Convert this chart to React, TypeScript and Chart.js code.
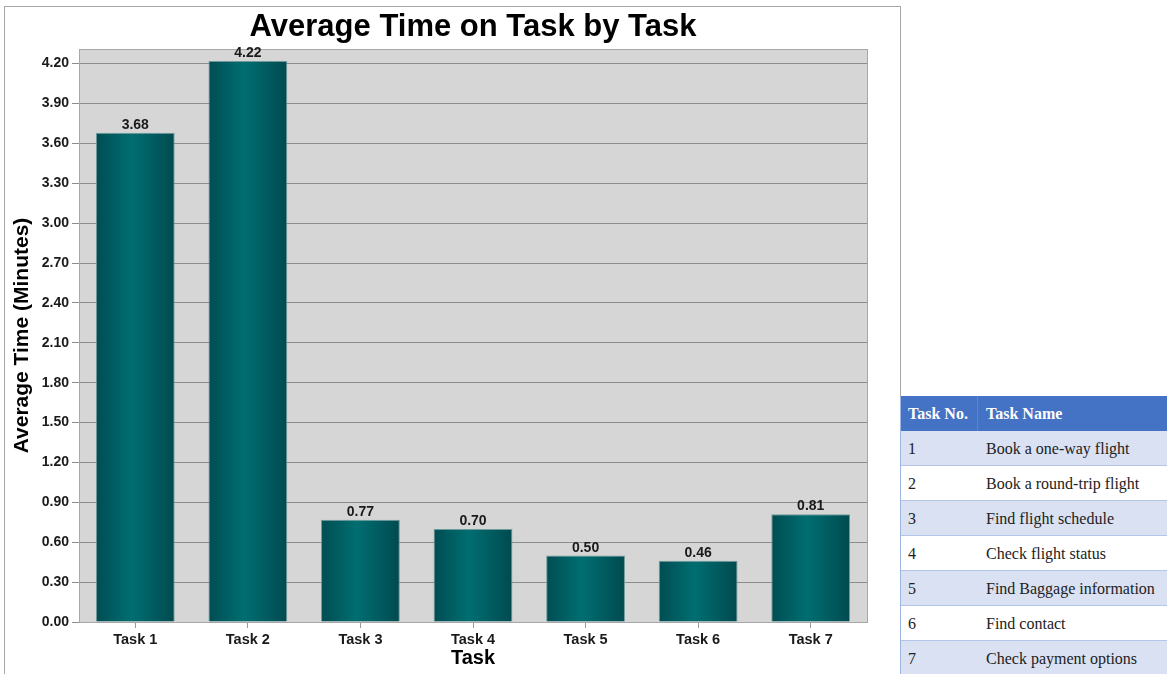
import React, { useEffect, useRef } from 'react';
import { Chart, registerables } from 'chart.js';
Chart.register(...registerables);

const FONT = '"Liberation Sans", Arial, sans-serif';
const SERIF = '"Liberation Serif", "Times New Roman", serif';

const chartTitle = 'Average Time on Task by Task';
const xAxisTitle = 'Task';
const yAxisTitle = 'Average Time (Minutes)';
const categories = ['Task 1', 'Task 2', 'Task 3', 'Task 4', 'Task 5', 'Task 6', 'Task 7'];
const avgTimes = [3.68, 4.22, 0.77, 0.7, 0.5, 0.46, 0.81];
const yTickValues = [0, 0.3, 0.6, 0.9, 1.2, 1.5, 1.8, 2.1, 2.4, 2.7, 3.0, 3.3, 3.6, 3.9, 4.2];
const yMax = 4.31;

const tableHeaders = ['Task No.', 'Task Name'];
const taskNumbers = ['1', '2', '3', '4', '5', '6', '7'];
const taskNames = [
  'Book a one-way flight',
  'Book a round-trip flight',
  'Find flight schedule',
  'Check flight status',
  'Find Baggage information',
  'Find contact',
  'Check payment options',
];

const BAR_PCT = 0.7;

const decorPlugin = {
  id: 'decor',
  beforeDraw(chart: any) {
    const { ctx, chartArea: a } = chart;
    ctx.save();
    ctx.fillStyle = '#d6d6d6';
    ctx.fillRect(a.left, a.top, a.right - a.left, a.bottom - a.top);
    ctx.restore();
  },
  beforeDatasetsDraw(chart: any) {
    const { ctx, chartArea: a } = chart;
    ctx.save();
    ctx.strokeStyle = '#a8a8a8';
    ctx.lineWidth = 1;
    ctx.strokeRect(Math.round(a.left) + 0.5, Math.round(a.top) + 0.5, Math.round(a.right - a.left), Math.round(a.bottom - a.top));
    ctx.restore();
  },
  afterDatasetsDraw(chart: any) {
    const { ctx, chartArea: a } = chart;
    const meta = chart.getDatasetMeta(0);
    const data = chart.data.datasets[0].data;
    ctx.save();
    ctx.fillStyle = '#1a1a1a';
    ctx.font = `bold 14px ${FONT}`;
    ctx.textAlign = 'center';
    ctx.textBaseline = 'alphabetic';
    meta.data.forEach((bar: any, i: number) => {
      ctx.fillText(Number(data[i]).toFixed(2), bar.x, bar.y - 4);
    });
    ctx.restore();
    ctx.save();
    ctx.fillStyle = '#000';
    ctx.font = `bold 31px ${FONT}`;
    ctx.textAlign = 'center';
    ctx.textBaseline = 'alphabetic';
    ctx.fillText(chartTitle, (a.left + a.right) / 2, 29);
    ctx.restore();
  },
};

function barGradient(c: any) {
  const chart = c.chart;
  const xs = chart.scales && chart.scales.x;
  if (!xs || c.dataIndex == null) return '#005f63';
  const center = xs.getPixelForValue(c.dataIndex);
  const w = (xs.width / categories.length) * BAR_PCT;
  const left = center - w / 2;
  if (!Number.isFinite(left) || !Number.isFinite(w) || w <= 0) return '#005f63';
  const g = chart.ctx.createLinearGradient(left, 0, left + w, 0);
  g.addColorStop(0, '#004d52');
  g.addColorStop(0.45, '#006e71');
  g.addColorStop(1, '#004a4f');
  return g;
}

function BarChart() {
  const ref = useRef<HTMLCanvasElement>(null);
  useEffect(() => {
    const chart = new Chart(ref.current as HTMLCanvasElement, {
      type: 'bar',
      data: {
        labels: categories,
        datasets: [
          {
            data: avgTimes,
            backgroundColor: barGradient,
            borderColor: '#6f9a9b',
            borderWidth: 1,
            barPercentage: BAR_PCT,
            categoryPercentage: 1,
          },
        ],
      },
      options: {
        responsive: false,
        maintainAspectRatio: false,
        animation: false,
        layout: { padding: { left: 0, right: 33, top: 42, bottom: 0 } },
        plugins: {
          legend: { display: false },
          title: { display: false },
          tooltip: { enabled: false },
        },
        scales: {
          x: {
            grid: { offset: false, drawOnChartArea: false, drawTicks: true, tickLength: 6, color: '#9a9a9a' },
            border: { display: false },
            ticks: { color: '#1a1a1a', font: { family: FONT, size: 14.5, weight: 'bold' }, padding: 3, maxRotation: 0 },
            title: {
              display: true,
              text: xAxisTitle,
              color: '#000',
              font: { family: FONT, size: 20, weight: 'bold' },
              padding: { top: 0, bottom: 4 },
            },
            afterFit: (s: any) => {
              s.height = 52;
            },
          },
          y: {
            min: 0,
            max: yMax,
            afterBuildTicks: (s: any) => {
              s.ticks = yTickValues.map((v) => ({ value: v }));
            },
            grid: { color: '#8c8c8c', tickLength: 7 },
            border: { display: false },
            ticks: {
              padding: 3,
              color: '#1a1a1a',
              font: { family: FONT, size: 14, weight: 'bold' },
              callback: (v: any) => Number(v).toFixed(2),
            },
            title: {
              display: true,
              text: yAxisTitle,
              color: '#000',
              font: { family: FONT, size: 21, weight: 'bold' },
              padding: { top: 5, bottom: 0 },
            },
            afterFit: (s: any) => {
              s.width = 74;
            },
          },
        },
      } as any,
      plugins: [decorPlugin],
    });
    return () => chart.destroy();
  }, []);
  return <canvas ref={ref} width={895} height={667} style={{ display: 'block', position: 'absolute', left: 0, top: 0 }} />;
}

function TaskTable() {
  const rowH = 35;
  const col1 = 77;
  return (
    <div style={{ position: 'absolute', left: 900, top: 396, width: 290, fontFamily: SERIF, fontSize: 16, borderLeft: '1px solid #9db5e3', zIndex: 2 }}>
      <div style={{ display: 'flex', height: rowH, background: '#4472c4', color: '#fff', fontWeight: 'bold', alignItems: 'center', boxSizing: 'border-box' }}>
        <div style={{ width: col1, paddingLeft: 7, boxSizing: 'border-box', borderRight: '1px solid #5a85d0', height: '100%', display: 'flex', alignItems: 'center' }}>{tableHeaders[0]}</div>
        <div style={{ paddingLeft: 8 }}>{tableHeaders[1]}</div>
      </div>
      {taskNumbers.map((n, i) => (
        <div
          key={n}
          style={{
            display: 'flex',
            height: rowH,
            background: i % 2 === 0 ? '#d9e1f2' : '#ffffff',
            color: '#222',
            alignItems: 'center',
            boxSizing: 'border-box',
            borderBottom: '1px solid #b4c6e7',
            paddingTop: 2,
          }}
        >
          <div style={{ width: col1, paddingLeft: 7, boxSizing: 'border-box' }}>{n}</div>
          <div style={{ paddingLeft: 8 }}>{taskNames[i]}</div>
        </div>
      ))}
    </div>
  );
}

export default function App() {
  return (
    <div style={{ position: 'fixed', left: 0, top: 0, width: 1167, height: 674, overflow: 'hidden', background: '#fff' }}>
      <div
        style={{
          position: 'absolute',
          left: 4,
          top: 6,
          width: 897,
          height: 690,
          border: '1px solid #a6a6a6',
          boxSizing: 'border-box',
        }}
      >
        <BarChart />
      </div>
      <TaskTable />
    </div>
  );
}
